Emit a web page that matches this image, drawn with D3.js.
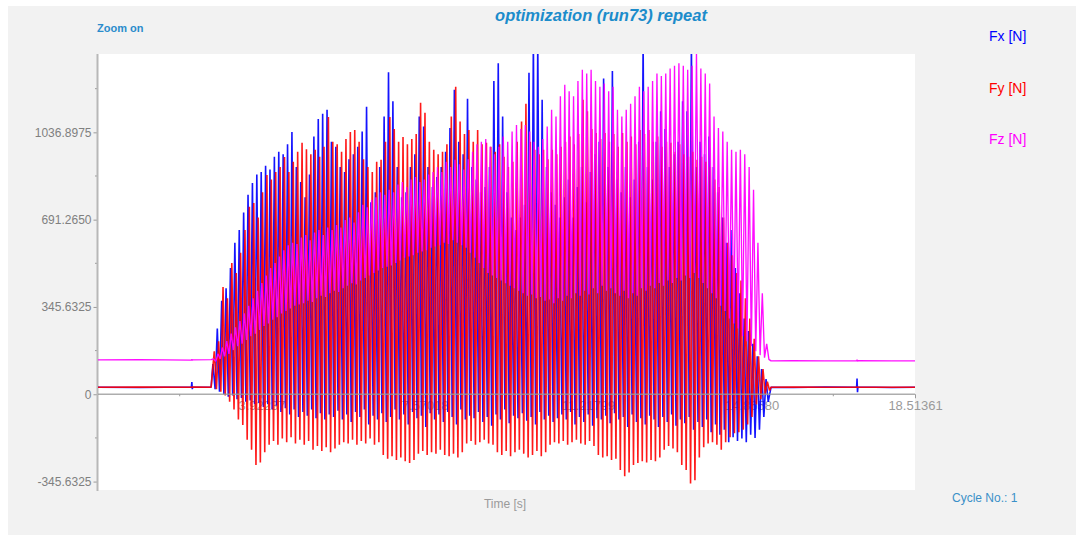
<!DOCTYPE html>
<html>
<head>
<meta charset="utf-8">
<script src="https://cdn.jsdelivr.net/npm/d3@7"></script>
<style>
  body { margin: 0; background: #fff; }
  svg { display: block; font-family: "Liberation Sans", Arial, sans-serif; }
</style>
</head>
<body>
<svg id="chart" width="1076" height="535"></svg>
<script>
// Axis settings
var xDomain = [0.27456, 18.51361];
var yDomain = [-379, 1347];
var yTicks = [-345.6325, 0, 345.6325, 691.2650, 1036.8975];
var yMinor = [-172.81625, 172.81625, 518.44875, 864.08125, 1209.71375];
var xTicks = [3.92237, 7.57018, 11.21799, 14.86580, 18.51361];
var xMinor = [2.09847, 5.74628, 9.39408, 13.04190, 16.68970];

// Series names and colours
var seriesNames = ["Fx [N]", "Fy [N]", "Fz [N]"];
var seriesColors = ["#0000ff", "#ff0000", "#ff00ff"];

// Oscillation cycles: one peak and one trough per cycle
var cycleStart = 2.84;
var cyclePeriod = 0.098;
var phase = [0, 0.03, 0.015];

// Quiet parts before and after the run (time, value)
var preTimes = [0.27456, 1.2, 2.36, 2.37, 2.38, 2.39, 2.80];
var fxPre = [28, 27, 29, 48, 20, 29, 28];
var fyPre = [28, 29, 28, 28, 28, 29, 28];
var fzPre = [136, 137, 135, 138, 135, 136, 137];
var postTimes = [15.30, 15.8, 16.5, 17.21, 17.22, 17.23, 17.24, 18.0, 18.51361];
var fxPost = [28, 27, 29, 28, 62, 8, 29, 27, 28];
var fyPost = [28, 29, 28, 28, 29, 28, 28, 28, 28];
var fzPost = [132, 133, 132, 132, 137, 130, 133, 132, 132];

// Fx peaks / troughs per cycle
var fxHi = [120, 260, 370, 420, 500, 600, 650, 720, 790, 836,
  870, 880, 905, 890, 940, 960, 950, 990, 1038, 900,
  840, 780, 870, 1020, 1090, 1110, 1126, 1000, 980, 900,
  880, 930, 950, 980, 1040, 1138, 760, 800, 900, 1100,
  1275, 1160, 900, 780, 800, 900, 950, 1100, 1060, 900,
  820, 860, 900, 960, 1054, 1205, 1000, 950, 1170, 900,
  850, 800, 820, 900, 1240, 1310, 1100, 800, 700, 650,
  700, 750, 1273, 1400, 1400, 1166, 900, 800, 750, 700,
  780, 850, 700, 820, 900, 760, 880, 950, 1000, 1250,
  900, 1280, 850, 800, 900, 780, 850, 1000, 1400, 900,
  850, 1000, 1120, 1050, 900, 950, 1000, 1160, 1120, 1400,
  900, 1000, 950, 1020, 900, 800, 700, 600, 650, 500,
  400, 300, 250, 200, 150, 100, 60];
var fxLo = [20, 10, 0, -10, -5, -20, -15, -30, -25, -40,
  -35, -50, -40, -60, -45, -70, -55, -80, -60, -90,
  -70, -85, -60, -95, -75, -100, -80, -90, -65, -100,
  -80, -110, -70, -90, -60, -120, -85, -100, -75, -110,
  -90, -60, -100, -80, -120, -70, -95, -85, -130, -75,
  -100, -80, -110, -70, -90, -120, -60, -100, -85, -95,
  -70, -110, -90, -125, -80, -100, -60, -115, -85, -95,
  -75, -105, -90, -120, -70, -100, -85, -110, -95, -80,
  -100, -70, -120, -90, -110, -80, -125, -95, -100, -85,
  -115, -75, -100, -90, -130, -80, -110, -95, -120, -85,
  -100, -130, -90, -110, -80, -125, -100, -115, -90, -140,
  -110, -130, -100, -150, -120, -160, -140, -190, -170, -185,
  -175, -190, -160, -173, -140, -90, -30];

// Fy peaks / troughs per cycle
var fyHi = [170, 210, 425, 380, 520, 480, 560, 650, 742, 757,
  700, 800, 868, 850, 880, 900, 939, 880, 920, 960,
  996, 970, 950, 968, 940, 980, 1098, 1000, 990, 960,
  1010, 1038, 1046, 1000, 930, 900, 880, 920, 928, 1000,
  1098, 1050, 1000, 1018, 990, 1010, 1030, 1154, 1114, 1000,
  968, 950, 960, 990, 1100, 1217, 1080, 1030, 1046, 1000,
  1046, 990, 996, 980, 960, 990, 940, 900, 920, 1000,
  1080, 1150, 1000, 968, 950, 968, 930, 968, 950, 980,
  1000, 1020, 990, 1030, 1166, 1120, 1050, 1034, 1010, 1034,
  1000, 1030, 980, 1034, 1000, 1020, 990, 1046, 1030, 1046,
  1000, 1020, 980, 1000, 996, 960, 990, 950, 940, 960,
  928, 940, 920, 900, 850, 820, 700, 600, 550, 480,
  450, 380, 300, 220, 150, 100, 50];
var fyLo = [20, 10, -5, -30, -60, -100, -122, -180, -220, -280,
  -270, -230, -200, -185, -200, -175, -190, -170, -195, -180,
  -200, -185, -220, -205, -225, -210, -230, -215, -200, -190,
  -195, -180, -200, -185, -195, -175, -200, -190, -240, -255,
  -245, -260, -250, -265, -272, -260, -235, -225, -240, -230,
  -235, -220, -240, -245, -235, -250, -230, -195, -185, -200,
  -190, -180, -195, -200, -230, -240, -225, -245, -230, -220,
  -235, -250, -240, -225, -245, -230, -200, -190, -195, -185,
  -200, -190, -180, -195, -200, -185, -205, -240, -250, -245,
  -260, -255, -300, -325, -310, -280, -272, -265, -270, -260,
  -265, -250, -220, -205, -215, -230, -280, -300, -353, -340,
  -250, -210, -195, -190, -200, -220, -190, -170, -154, -150,
  -140, -120, -90, -40, -20, 0, 15];

// Fz peaks / troughs per cycle
var fzHi = [140, 160, 185, 210, 240, 265, 290, 320, 350, 380,
  410, 440, 470, 500, 520, 545, 570, 590, 600, 595,
  620, 630, 610, 640, 650, 630, 660, 650, 670, 660,
  690, 700, 680, 720, 750, 740, 770, 780, 800, 790,
  810, 800, 830, 840, 820, 850, 860, 840, 850, 870,
  880, 900, 880, 920, 900, 928, 910, 890, 930, 960,
  990, 1000, 1010, 980, 950, 980, 1020, 1000, 1040, 1066,
  1050, 1066, 1040, 1000, 980, 1010, 1060, 1126, 1100, 1180,
  1225, 1200, 1180, 1240, 1285, 1270, 1285, 1240, 1217, 1230,
  1200, 1217, 1126, 1100, 1126, 1150, 1180, 1217, 1200, 1217,
  1240, 1270, 1260, 1270, 1290, 1300, 1310, 1300, 1285, 1300,
  1350, 1290, 1270, 1230, 1100, 1054, 1040, 1000, 968, 960,
  968, 950, 900, 810, 600, 400, 200];
var fzLo = [130, 140, 150, 160, 175, 190, 200, 215, 230, 240,
  255, 270, 280, 295, 305, 320, 330, 340, 350, 355,
  360, 370, 365, 380, 390, 385, 400, 410, 405, 420,
  430, 440, 435, 450, 460, 470, 480, 490, 500, 505,
  510, 520, 530, 540, 545, 550, 560, 565, 570, 580,
  585, 590, 600, 595, 610, 600, 590, 580, 560, 540,
  520, 500, 480, 470, 460, 450, 440, 430, 420, 410,
  400, 390, 395, 380, 385, 370, 375, 360, 380, 370,
  390, 380, 400, 390, 410, 395, 420, 400, 430, 410,
  420, 400, 390, 410, 380, 400, 390, 420, 410, 430,
  420, 440, 430, 450, 440, 460, 450, 470, 460, 480,
  460, 440, 420, 400, 380, 350, 330, 300, 280, 260,
  230, 210, 190, 170, 155, 145, 138];

var plot = {left: 98, right: 915, top: 54, bottom: 490};
var svg = d3.select("#chart");

//Grey panel behind everything
svg.append("rect").attr("x", 8).attr("y", 6).attr("width", 1068).attr("height", 529).attr("fill", "#f2f2f2");
svg.append("rect").attr("x", plot.left).attr("y", plot.top)
  .attr("width", plot.right - plot.left).attr("height", plot.bottom - plot.top).attr("fill", "#fff");

var x = d3.scaleLinear().domain(xDomain).range([plot.left, plot.right]);
var y = d3.scaleLinear().domain(yDomain).range([plot.bottom, plot.top]);

//Title and captions
svg.append("text").attr("x", 601).attr("y", 21).attr("text-anchor", "middle")
  .attr("font-size", 16.5).attr("font-weight", "bold").attr("font-style", "italic")
  .attr("fill", "#1c8ccb").text("optimization (run73) repeat");
svg.append("text").attr("x", 97).attr("y", 32).attr("font-size", 11).attr("font-weight", "bold")
  .attr("fill", "#2a8ccc").text("Zoom on");
svg.append("text").attr("x", 505).attr("y", 508).attr("text-anchor", "middle")
  .attr("font-size", 12).attr("fill", "#9a9a9a").text("Time [s]");
svg.append("text").attr("x", 952).attr("y", 502).attr("font-size", 12)
  .attr("fill", "#3a90c8").text("Cycle No.: 1");

//Legend
seriesNames.forEach(function(name, i){
  svg.append("text").attr("x", 989).attr("y", 41 + i * 51.5).attr("font-size", 14)
    .attr("fill", seriesColors[i]).text(name);
});

//Y axis
var yAxis = d3.axisLeft(y).tickValues(yTicks).tickSize(4).tickPadding(2)
  .tickFormat(function(d){ return d === 0 ? "0" : d.toFixed(4); });
var yg = svg.append("g").attr("transform", "translate(" + (plot.left - 0.5) + ",0)").call(yAxis);
yg.select(".domain").remove();
yg.selectAll("line").attr("stroke", "#9a9a9a");
yg.selectAll("text").attr("fill", "#808080").attr("font-size", 12).attr("font-family", "Liberation Sans, Arial, sans-serif");
svg.append("g").selectAll("line").data(yMinor).join("line")
  .attr("x1", plot.left - 3).attr("x2", plot.left).attr("y1", function(d){ return y(d); }).attr("y2", function(d){ return y(d); })
  .attr("stroke", "#9a9a9a");
svg.append("line").attr("x1", plot.left - 0.5).attr("x2", plot.left - 0.5)
  .attr("y1", plot.top).attr("y2", plot.bottom + 1).attr("stroke", "#b8b8b8").attr("stroke-width", 2);

//X axis labels sit under the data
var xAxis = d3.axisBottom(x).tickValues(xTicks).tickSize(4).tickPadding(3)
  .tickFormat(function(d){ return d.toFixed(5); });
var xg = svg.append("g").attr("transform", "translate(0," + y(0) + ")").call(xAxis);
xg.select(".domain").remove();
xg.selectAll("line").attr("stroke", "#9a9a9a");
xg.selectAll("text").attr("fill", "#9a9a9a").attr("font-size", 13).attr("font-family", "Liberation Sans, Arial, sans-serif");
svg.append("g").selectAll("line").data(xMinor).join("line")
  .attr("x1", function(d){ return x(d); }).attr("x2", function(d){ return x(d); })
  .attr("y1", y(0)).attr("y2", y(0) + 2).attr("stroke", "#9a9a9a");

//Build each series as peak/trough samples
function buildSeries(pre, hi, lo, post, ph){
  var pts = [];
  preTimes.forEach(function(t, i){ pts.push([t, pre[i]]); });
  hi.forEach(function(v, i){
    var t = cycleStart + i * cyclePeriod + ph;
    pts.push([t, v]);
    pts.push([t + cyclePeriod / 2, lo[i]]);
  });
  postTimes.forEach(function(t, i){ pts.push([t, post[i]]); });
  return pts;
}

var series = [
  buildSeries(fxPre, fxHi, fxLo, fxPost, phase[0]),
  buildSeries(fyPre, fyHi, fyLo, fyPost, phase[1]),
  buildSeries(fzPre, fzHi, fzLo, fzPost, phase[2])
];

svg.append("clipPath").attr("id", "clip").append("rect")
  .attr("x", plot.left).attr("y", plot.top)
  .attr("width", plot.right - plot.left).attr("height", plot.bottom - plot.top);

var line = d3.line().x(function(d){ return x(d[0]); }).y(function(d){ return y(d[1]); });

// Fx, then Fy, then Fz on top
var strokeW = [1.6, 1.6, 1.35];
var strokeO = [0.92, 0.9, 0.95];
var dataG = svg.append("g").attr("clip-path", "url(#clip)");
series.forEach(function(pts, i){
  dataG.append("path").datum(pts).attr("d", line)
    .attr("fill", "none").attr("stroke", seriesColors[i])
    .attr("stroke-width", strokeW[i]).attr("stroke-opacity", strokeO[i]).attr("stroke-linejoin", "bevel");
});

//Zero line drawn over the data
svg.append("line").attr("x1", plot.left).attr("x2", plot.right).attr("y1", y(0)).attr("y2", y(0))
  .attr("stroke", "#999").attr("stroke-opacity", 0.8).attr("stroke-width", 1.5);
</script>
</body>
</html>
